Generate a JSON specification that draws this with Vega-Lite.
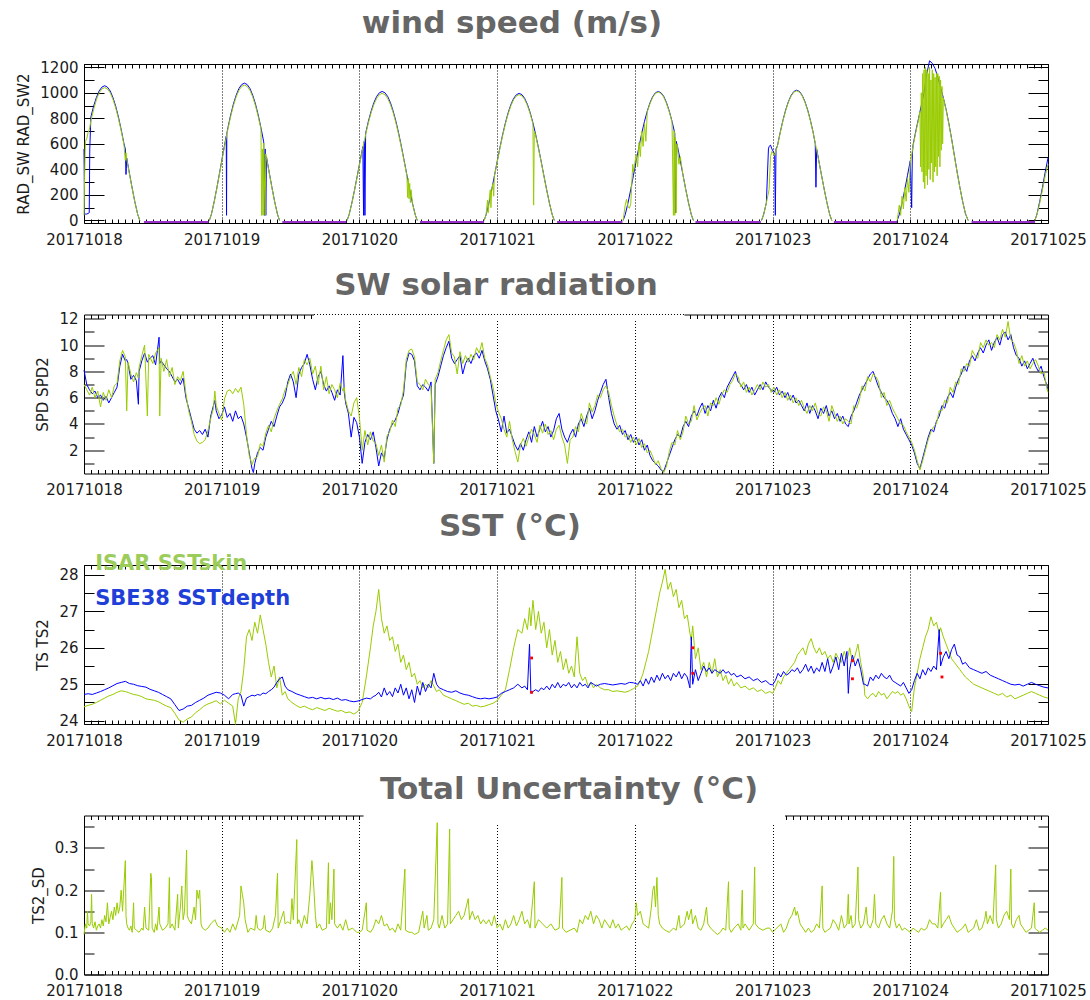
{
"$schema": "https://vega.github.io/schema/vega-lite/v6.json",
"background": "white",
"padding": {"left": 16, "top": 7, "right": 5, "bottom": 3},
"spacing": 91.5,
"bounds": "flush",
"config": {
  "view": {"stroke": "#000", "strokeWidth": 1},
  "axis": {"grid": false, "domain": false, "ticks": true, "labelFont": "DejaVu Sans", "labelFontSize": 15, "labelColor": "#1a1a1a", "titleFont": "DejaVu Sans", "titleFontSize": 15, "titleFontWeight": "normal", "titleColor": "#1a1a1a", "tickColor": "#000", "tickWidth": 1, "tickOpacity": 1},
  "title": {"font": "DejaVu Sans", "fontSize": 31, "fontWeight": "bold", "color": "#666666", "anchor": "middle", "baseline": "alphabetic"},
  "line": {"strokeWidth": 1, "invalid": "filter", "clip": true}
},
"datasets": {
"rad": [
{"t":0,"d":0,"b":560,"g":40},{"t":0.004,"d":0,"b":50,"g":330},{"t":0.01,"d":0,"b":50,"g":620},{"t":0.02,"d":0,"b":50,"g":640},{"t":0.03,"d":0,"b":55,"g":690},{"t":0.038,"d":0,"b":60,"g":710},{"t":0.042,"d":0,"b":560,"g":730},{"t":0.05,"d":0,"b":810,"g":780},{"t":0.07,"d":0,"b":895,"g":870},{"t":0.09,"d":0,"b":963,"g":945},{"t":0.11,"d":0,"b":1014,"g":1000},{"t":0.13,"d":0,"b":1044,"g":1030},{"t":0.15,"d":0,"b":1055,"g":1040},{"t":0.17,"d":0,"b":1044,"g":1030},{"t":0.19,"d":0,"b":1014,"g":1000},{"t":0.21,"d":0,"b":963,"g":950},{"t":0.23,"d":0,"b":895,"g":882},{"t":0.25,"d":0,"b":810,"g":799},{"t":0.27,"d":0,"b":712,"g":702},{"t":0.29,"d":0,"b":603,"g":595},{"t":0.3,"d":0,"b":560,"g":470},{"t":0.305,"d":0,"b":360,"g":530},{"t":0.31,"d":0,"b":488,"g":482},{"t":0.33,"d":0,"b":369,"g":364},{"t":0.35,"d":0,"b":252,"g":249},{"t":0.37,"d":0,"b":142,"g":140},{"t":0.39,"d":0,"b":47,"g":47},{"t":0.405,"d":0,"b":0,"g":0},
{"t":0.91,"d":1,"b":0,"g":0},{"t":0.925,"d":1,"b":48,"g":48},{"t":0.945,"d":1,"b":145,"g":143},{"t":0.965,"d":1,"b":257,"g":253},{"t":0.985,"d":1,"b":376,"g":371},{"t":1.005,"d":1,"b":498,"g":491},{"t":1.025,"d":1,"b":615,"g":606},{"t":1.033,"d":1,"b":660},{"t":1.035,"d":1,"b":40},{"t":1.037,"d":1,"b":680},{"t":1.045,"d":1,"b":726,"g":716},{"t":1.065,"d":1,"b":826,"g":814},{"t":1.085,"d":1,"b":912,"g":899},{"t":1.105,"d":1,"b":981,"g":968},{"t":1.125,"d":1,"b":1033,"g":1019},{"t":1.145,"d":1,"b":1064,"g":1049},{"t":1.165,"d":1,"b":1075,"g":1060},{"t":1.185,"d":1,"b":1064,"g":1049},{"t":1.205,"d":1,"b":1033,"g":1019},{"t":1.225,"d":1,"b":981,"g":968},{"t":1.245,"d":1,"b":912,"g":899},{"t":1.265,"d":1,"b":826,"g":814},{"t":1.285,"d":1,"b":726,"g":716},{"t":1.29,"d":1,"g":40},{"t":1.295,"d":1,"g":560},{"t":1.3,"d":1,"g":40},{"t":1.305,"d":1,"b":615,"g":606},{"t":1.31,"d":1,"b":40},{"t":1.315,"d":1,"b":560,"g":40},{"t":1.32,"d":1,"b":40,"g":520},{"t":1.325,"d":1,"b":498,"g":491},{"t":1.345,"d":1,"b":376,"g":371},{"t":1.365,"d":1,"b":257,"g":253},{"t":1.385,"d":1,"b":145,"g":143},{"t":1.405,"d":1,"b":48,"g":48},{"t":1.42,"d":1,"b":0,"g":0},
{"t":1.91,"d":2,"b":0,"g":0},{"t":1.925,"d":2,"b":45,"g":45},{"t":1.945,"d":2,"b":136,"g":134},{"t":1.965,"d":2,"b":241,"g":238},{"t":1.985,"d":2,"b":354,"g":348},{"t":2.005,"d":2,"b":468,"g":461},{"t":2.025,"d":2,"b":578,"g":569},{"t":2.03,"d":2,"b":40},{"t":2.035,"d":2,"b":620},{"t":2.04,"d":2,"b":40},{"t":2.045,"d":2,"b":682,"g":672},{"t":2.065,"d":2,"b":776,"g":764},{"t":2.085,"d":2,"b":856,"g":844},{"t":2.105,"d":2,"b":922,"g":908},{"t":2.125,"d":2,"b":971,"g":956},{"t":2.145,"d":2,"b":1000,"g":985},{"t":2.165,"d":2,"b":1010,"g":995},{"t":2.185,"d":2,"b":1000,"g":985},{"t":2.205,"d":2,"b":971,"g":956},{"t":2.225,"d":2,"b":922,"g":908},{"t":2.245,"d":2,"b":856,"g":844},{"t":2.265,"d":2,"b":776,"g":764},{"t":2.285,"d":2,"b":682,"g":672},{"t":2.305,"d":2,"b":578,"g":569},{"t":2.325,"d":2,"b":468,"g":461},{"t":2.345,"d":2,"b":354,"g":348},{"t":2.35,"d":2,"g":180},{"t":2.355,"d":2,"g":330},{"t":2.36,"d":2,"g":170},{"t":2.365,"d":2,"b":241,"g":290},{"t":2.37,"d":2,"g":140},{"t":2.375,"d":2,"g":240},{"t":2.385,"d":2,"b":136,"g":134},{"t":2.405,"d":2,"b":45,"g":45},{"t":2.42,"d":2,"b":0,"g":0},
{"t":2.905,"d":3,"b":0,"g":0},{"t":2.92,"d":3,"b":45,"g":44},{"t":2.93,"d":3,"g":160},{"t":2.935,"d":3,"g":60},{"t":2.94,"d":3,"b":134,"g":133},{"t":2.95,"d":3,"g":240},{"t":2.955,"d":3,"g":100},{"t":2.96,"d":3,"b":238,"g":235},{"t":2.97,"d":3,"g":290},{"t":2.975,"d":3,"g":190},{"t":2.98,"d":3,"b":348,"g":345},{"t":3,"d":3,"b":461,"g":456},{"t":3.02,"d":3,"b":569,"g":564},{"t":3.04,"d":3,"b":672,"g":665},{"t":3.06,"d":3,"b":764,"g":756},{"t":3.08,"d":3,"b":844,"g":835},{"t":3.1,"d":3,"b":908,"g":899},{"t":3.12,"d":3,"b":956,"g":947},{"t":3.14,"d":3,"b":985,"g":975},{"t":3.16,"d":3,"b":995,"g":985},{"t":3.18,"d":3,"b":985,"g":975},{"t":3.2,"d":3,"b":956,"g":947},{"t":3.22,"d":3,"b":908,"g":899},{"t":3.24,"d":3,"b":844,"g":835},{"t":3.26,"d":3,"b":764,"g":756},{"t":3.265,"d":3,"g":120},{"t":3.27,"d":3,"g":700},{"t":3.28,"d":3,"b":672,"g":665},{"t":3.3,"d":3,"b":569,"g":564},{"t":3.32,"d":3,"b":461,"g":456},{"t":3.34,"d":3,"b":348,"g":345},{"t":3.36,"d":3,"b":238,"g":235},{"t":3.38,"d":3,"b":134,"g":133},{"t":3.4,"d":3,"b":45,"g":44},{"t":3.415,"d":3,"b":0,"g":0},
{"t":3.915,"d":4,"b":0,"g":0},{"t":3.93,"d":4,"b":45,"g":120},{"t":3.94,"d":4,"g":165},{"t":3.95,"d":4,"b":136,"g":110},{"t":3.96,"d":4,"g":95},{"t":3.97,"d":4,"b":241,"g":130},{"t":3.985,"d":4,"g":440},{"t":3.99,"d":4,"b":354,"g":380},{"t":4.01,"d":4,"b":468,"g":520},{"t":4.02,"d":4,"g":420},{"t":4.03,"d":4,"b":578,"g":610},{"t":4.04,"d":4,"g":500},{"t":4.05,"d":4,"b":682,"g":700},{"t":4.06,"d":4,"g":580},{"t":4.07,"d":4,"b":776,"g":760},{"t":4.08,"d":4,"g":620},{"t":4.09,"d":4,"b":856,"g":850},{"t":4.11,"d":4,"b":922,"g":915},{"t":4.13,"d":4,"b":971,"g":965},{"t":4.15,"d":4,"b":1000,"g":995},{"t":4.17,"d":4,"b":1010,"g":1005},{"t":4.19,"d":4,"b":1000,"g":995},{"t":4.21,"d":4,"b":971,"g":965},{"t":4.23,"d":4,"b":922,"g":915},{"t":4.25,"d":4,"b":856,"g":850},{"t":4.27,"d":4,"b":776,"g":770},{"t":4.28,"d":4,"g":40},{"t":4.285,"d":4,"g":700},{"t":4.29,"d":4,"b":682,"g":40},{"t":4.295,"d":4,"b":60,"g":650},{"t":4.3,"d":4,"b":620,"g":60},{"t":4.305,"d":4,"g":600},{"t":4.31,"d":4,"b":578,"g":570},{"t":4.32,"d":4,"g":440},{"t":4.33,"d":4,"b":468,"g":500},{"t":4.35,"d":4,"b":354,"g":350},{"t":4.37,"d":4,"b":241,"g":239},{"t":4.39,"d":4,"b":136,"g":135},{"t":4.41,"d":4,"b":45,"g":45},{"t":4.425,"d":4,"b":0,"g":0},
{"t":4.92,"d":5,"b":0,"g":0},{"t":4.935,"d":5,"b":46,"g":46},{"t":4.955,"d":5,"b":138,"g":137},{"t":4.97,"d":5,"b":560},{"t":4.975,"d":5,"b":580,"g":243},{"t":4.985,"d":5,"b":590,"g":500},{"t":4.995,"d":5,"b":560,"g":540},{"t":5.015,"d":5,"b":520,"g":510},{"t":5.02,"d":5,"b":40},{"t":5.025,"d":5,"b":560},{"t":5.035,"d":5,"b":583,"g":580},{"t":5.055,"d":5,"b":688,"g":684},{"t":5.075,"d":5,"b":783,"g":779},{"t":5.095,"d":5,"b":865,"g":860},{"t":5.115,"d":5,"b":931,"g":926},{"t":5.135,"d":5,"b":980,"g":975},{"t":5.155,"d":5,"b":1010,"g":1005},{"t":5.175,"d":5,"b":1020,"g":1015},{"t":5.195,"d":5,"b":1010,"g":1005},{"t":5.215,"d":5,"b":980,"g":975},{"t":5.235,"d":5,"b":931,"g":926},{"t":5.255,"d":5,"b":865,"g":860},{"t":5.275,"d":5,"b":783,"g":779},{"t":5.295,"d":5,"b":688,"g":684},{"t":5.31,"d":5,"b":600},{"t":5.315,"d":5,"b":260,"g":580},{"t":5.32,"d":5,"b":560},{"t":5.335,"d":5,"b":472,"g":470},{"t":5.355,"d":5,"b":357,"g":355},{"t":5.375,"d":5,"b":244,"g":243},{"t":5.395,"d":5,"b":138,"g":137},{"t":5.415,"d":5,"b":46,"g":46},{"t":5.43,"d":5,"b":0,"g":0},
{"t":5.905,"d":6,"b":0,"g":0},{"t":5.92,"d":6,"b":45,"g":120},{"t":5.93,"d":6,"g":40},{"t":5.94,"d":6,"b":136,"g":190},{"t":5.95,"d":6,"g":90},{"t":5.96,"d":6,"b":241,"g":260},{"t":5.97,"d":6,"g":150},{"t":5.98,"d":6,"b":354,"g":330},{"t":5.99,"d":6,"g":220},{"t":6,"d":6,"b":468,"g":450},{"t":6.01,"d":6,"b":100},{"t":6.015,"d":6,"b":520},{"t":6.02,"d":6,"b":590,"g":580},{"t":6.04,"d":6,"b":700,"g":690},{"t":6.06,"d":6,"b":800,"g":790},{"t":6.07,"d":6,"g":850},{"t":6.075,"d":6,"g":420},{"t":6.08,"d":6,"b":900,"g":1000},{"t":6.085,"d":6,"g":380},{"t":6.09,"d":6,"g":1150},{"t":6.095,"d":6,"g":300},{"t":6.1,"d":6,"b":1000,"g":1180},{"t":6.105,"d":6,"g":250},{"t":6.11,"d":6,"g":1200},{"t":6.115,"d":6,"g":350},{"t":6.12,"d":6,"b":1150,"g":1180},{"t":6.125,"d":6,"g":280},{"t":6.13,"d":6,"g":1150},{"t":6.135,"d":6,"g":400},{"t":6.14,"d":6,"b":1250,"g":1200},{"t":6.145,"d":6,"g":320},{"t":6.15,"d":6,"g":1100},{"t":6.155,"d":6,"g":450},{"t":6.16,"d":6,"b":1230,"g":1180},{"t":6.165,"d":6,"g":300},{"t":6.17,"d":6,"g":1150},{"t":6.175,"d":6,"g":380},{"t":6.18,"d":6,"b":1190,"g":1120},{"t":6.185,"d":6,"g":420},{"t":6.19,"d":6,"g":1150},{"t":6.195,"d":6,"g":350},{"t":6.2,"d":6,"b":1120,"g":1150},{"t":6.205,"d":6,"g":500},{"t":6.21,"d":6,"g":1130},{"t":6.215,"d":6,"g":420},{"t":6.22,"d":6,"b":1040,"g":1100},{"t":6.225,"d":6,"g":550},{"t":6.23,"d":6,"g":1050},{"t":6.235,"d":6,"g":600},{"t":6.24,"d":6,"b":960,"g":960},{"t":6.26,"d":6,"b":870,"g":865},{"t":6.28,"d":6,"b":760,"g":755},{"t":6.3,"d":6,"b":640,"g":635},{"t":6.32,"d":6,"b":510,"g":505},{"t":6.34,"d":6,"b":380,"g":378},{"t":6.36,"d":6,"b":260,"g":258},{"t":6.38,"d":6,"b":150,"g":148},{"t":6.4,"d":6,"b":55,"g":55},{"t":6.42,"d":6,"b":0,"g":0},
{"t":6.905,"d":7,"b":0,"g":0},{"t":6.92,"d":7,"b":50,"g":45},{"t":6.94,"d":7,"b":150,"g":135},{"t":6.96,"d":7,"b":260,"g":240},{"t":6.98,"d":7,"b":380,"g":350},{"t":7,"d":7,"b":490,"g":440}
],
"night": [
{"t":0.435,"d":0,"v":-12},{"t":0.905,"d":0,"v":-12},{"t":1.44,"d":1,"v":-12},{"t":1.905,"d":1,"v":-12},{"t":2.44,"d":2,"v":-12},{"t":2.905,"d":2,"v":-12},{"t":3.435,"d":3,"v":-12},{"t":3.91,"d":3,"v":-12},{"t":4.44,"d":4,"v":-12},{"t":4.915,"d":4,"v":-12},{"t":5.445,"d":5,"v":-12},{"t":5.905,"d":5,"v":-12},{"t":6.445,"d":6,"v":-12},{"t":6.905,"d":6,"v":-12}
],
"wind": [
{"t":0,"b":8.1,"g":7.0},{"t":0.02,"b":7.0,"g":6.6},{"t":0.04,"b":6.6,"g":6.2},{"t":0.06,"b":6.3,"g":6.8},{"t":0.08,"b":6.5,"g":6.0},{"t":0.1,"b":6.0,"g":6.5},{"t":0.12,"b":6.2,"g":5.3},{"t":0.14,"b":5.8,"g":6.4},{"t":0.16,"b":6.1,"g":5.8},{"t":0.18,"b":5.6,"g":6.6},{"t":0.2,"b":6.0,"g":6.0},{"t":0.22,"b":6.4,"g":6.9},{"t":0.24,"b":6.8,"g":7.1},{"t":0.26,"b":8.4,"g":8.8},{"t":0.28,"b":9.3,"g":9.6},{"t":0.3,"b":8.8,"g":9.1},{"t":0.31,"b":8.9,"g":5.0},{"t":0.32,"b":8.6,"g":8.7},{"t":0.34,"b":7.4,"g":7.8},{"t":0.36,"b":7.7,"g":7.2},{"t":0.38,"b":7.3,"g":7.9},{"t":0.395,"b":5.5,"g":7.5},{"t":0.4,"b":8.0,"g":8.3},{"t":0.42,"b":8.8,"g":9.2},{"t":0.44,"b":9.4,"g":10.0},{"t":0.46,"b":8.7,"g":4.6},{"t":0.47,"b":8.9,"g":9.3},{"t":0.5,"b":9.2,"g":8.6},{"t":0.52,"b":8.5,"g":9.4},{"t":0.545,"b":10.6,"g":9.8},{"t":0.55,"b":8.6,"g":4.6},{"t":0.56,"b":8.8,"g":9.0},{"t":0.58,"b":8.5,"g":8.0},{"t":0.6,"b":8.2,"g":8.9},{"t":0.62,"b":8.0,"g":7.6},{"t":0.64,"b":7.6,"g":8.3},{"t":0.66,"b":7.2,"g":7.0},{"t":0.68,"b":7.4,"g":7.6},{"t":0.7,"b":7.0,"g":7.3},{"t":0.72,"b":7.5,"g":8.0},{"t":0.74,"b":6.0,"g":6.3},{"t":0.76,"b":5.2,"g":5.0},{"t":0.78,"b":4.4,"g":4.2},{"t":0.8,"b":3.6,"g":3.2},{"t":0.82,"b":3.3,"g":2.7},{"t":0.84,"b":3.5,"g":2.5},{"t":0.86,"b":3.2,"g":2.6},{"t":0.88,"b":3.6,"g":2.8},{"t":0.9,"b":3.0,"g":3.5},{"t":0.92,"b":4.6,"g":4.4},{"t":0.94,"b":5.4,"g":5.2},{"t":0.95,"b":5.8,"g":6.5},{"t":0.96,"b":5.0,"g":5.4},{"t":0.98,"b":4.4,"g":4.8},{"t":1.0,"b":4.7,"g":4.3},{"t":1.02,"b":5.3,"g":5.9},{"t":1.04,"b":4.5,"g":6.5},{"t":1.06,"b":4.8,"g":6.6},{"t":1.08,"b":4.2,"g":6.3},{"t":1.1,"b":5.0,"g":6.7},{"t":1.12,"b":4.4,"g":6.4},{"t":1.14,"b":4.6,"g":6.8},{"t":1.16,"b":4.0,"g":5.5},{"t":1.18,"b":3.0,"g":3.2},{"t":1.2,"b":1.8,"g":1.6},{"t":1.22,"b":0.6,"g":0.9},{"t":1.23,"b":0.3,"g":1.2},{"t":1.24,"b":1.0,"g":1.4},{"t":1.26,"b":1.8,"g":1.5},{"t":1.28,"b":2.2,"g":2.5},{"t":1.3,"b":2.0,"g":2.3},{"t":1.32,"b":3.0,"g":3.3},{"t":1.34,"b":3.6,"g":3.9},{"t":1.36,"b":4.2,"g":3.4},{"t":1.38,"b":3.8,"g":4.4},{"t":1.4,"b":4.6,"g":5.0},{"t":1.42,"b":5.3,"g":5.5},{"t":1.44,"b":5.6,"g":5.9},{"t":1.46,"b":6.1,"g":6.6},{"t":1.48,"b":7.2,"g":7.0},{"t":1.5,"b":7.8,"g":7.6},{"t":1.52,"b":7.2,"g":8.0},{"t":1.54,"b":6.0,"g":7.0},{"t":1.56,"b":7.8,"g":8.3},{"t":1.58,"b":8.3,"g":7.6},{"t":1.6,"b":8.6,"g":8.9},{"t":1.62,"b":9.3,"g":8.5},{"t":1.64,"b":8.5,"g":9.0},{"t":1.66,"b":7.4,"g":7.8},{"t":1.68,"b":6.6,"g":8.4},{"t":1.7,"b":7.6,"g":7.0},{"t":1.72,"b":8.0,"g":8.4},{"t":1.74,"b":7.0,"g":6.6},{"t":1.76,"b":6.5,"g":7.6},{"t":1.78,"b":6.9,"g":6.3},{"t":1.8,"b":6.4,"g":7.0},{"t":1.82,"b":5.8,"g":6.6},{"t":1.84,"b":6.6,"g":6.0},{"t":1.86,"b":6.2,"g":7.1},{"t":1.88,"b":9.2,"g":6.5},{"t":1.89,"b":6.4,"g":6.8},{"t":1.9,"b":5.6,"g":5.8},{"t":1.92,"b":4.8,"g":5.0},{"t":1.94,"b":3.0,"g":4.6},{"t":1.96,"b":4.5,"g":5.6},{"t":1.98,"b":4.1,"g":6.0},{"t":2.0,"b":3.0,"g":4.5},{"t":2.02,"b":1.0,"g":2.0},{"t":2.04,"b":2.6,"g":3.5},{"t":2.06,"b":3.2,"g":2.4},{"t":2.08,"b":2.8,"g":3.4},{"t":2.1,"b":3.4,"g":2.7},{"t":2.12,"b":2.2,"g":2.5},{"t":2.14,"b":0.8,"g":1.6},{"t":2.16,"b":1.8,"g":2.4},{"t":2.18,"b":1.4,"g":1.1},{"t":2.2,"b":2.8,"g":3.1},{"t":2.22,"b":3.6,"g":3.4},{"t":2.24,"b":4.0,"g":4.3},{"t":2.26,"b":4.3,"g":3.8},{"t":2.28,"b":4.8,"g":5.2},{"t":2.3,"b":5.6,"g":5.4},{"t":2.32,"b":6.2,"g":6.6},{"t":2.34,"b":8.6,"g":8.9},{"t":2.36,"b":9.4,"g":9.6},{"t":2.38,"b":9.3,"g":9.7},{"t":2.4,"b":8.8,"g":9.1},{"t":2.42,"b":6.9,"g":7.2},{"t":2.44,"b":6.6,"g":7.0},{"t":2.46,"b":7.0,"g":6.6},{"t":2.48,"b":6.8,"g":7.4},{"t":2.5,"b":6.5,"g":7.0},{"t":2.52,"b":7.2,"g":6.8},{"t":2.54,"b":1.0,"g":1.0},{"t":2.55,"b":7.0,"g":7.4},{"t":2.57,"b":7.6,"g":7.9},{"t":2.59,"b":8.4,"g":8.8},{"t":2.61,"b":9.2,"g":9.6},{"t":2.63,"b":9.8,"g":10.4},{"t":2.65,"b":10.3,"g":10.8},{"t":2.67,"b":9.0,"g":9.4},{"t":2.69,"b":8.6,"g":9.1},{"t":2.71,"b":8.9,"g":7.8},{"t":2.73,"b":9.2,"g":9.5},{"t":2.75,"b":7.8,"g":8.6},{"t":2.77,"b":8.6,"g":9.2},{"t":2.79,"b":9.0,"g":8.7},{"t":2.81,"b":8.6,"g":9.3},{"t":2.83,"b":9.2,"g":8.9},{"t":2.85,"b":9.4,"g":9.8},{"t":2.87,"b":9.0,"g":9.4},{"t":2.89,"b":9.6,"g":10.2},{"t":2.91,"b":8.8,"g":9.0},{"t":2.93,"b":8.2,"g":8.5},{"t":2.95,"b":7.4,"g":7.6},{"t":2.97,"b":6.2,"g":6.8},{"t":2.99,"b":5.0,"g":5.6},{"t":3.01,"b":4.3,"g":4.9},{"t":3.03,"b":3.4,"g":4.4},{"t":3.05,"b":4.6,"g":3.6},{"t":3.07,"b":3.3,"g":3.0},{"t":3.09,"b":3.6,"g":4.2},{"t":3.11,"b":3.0,"g":2.8},{"t":3.13,"b":2.4,"g":1.9},{"t":3.15,"b":2.0,"g":1.1},{"t":3.17,"b":2.5,"g":2.4},{"t":3.19,"b":2.0,"g":2.9},{"t":3.21,"b":2.8,"g":2.3},{"t":3.23,"b":3.4,"g":3.0},{"t":3.25,"b":2.6,"g":3.6},{"t":3.27,"b":3.8,"g":3.2},{"t":3.29,"b":3.0,"g":2.6},{"t":3.31,"b":3.6,"g":3.9},{"t":3.33,"b":4.2,"g":3.3},{"t":3.35,"b":3.4,"g":4.0},{"t":3.37,"b":3.8,"g":3.2},{"t":3.39,"b":3.0,"g":3.5},{"t":3.41,"b":3.5,"g":2.8},{"t":3.43,"b":4.4,"g":3.6},{"t":3.45,"b":4.8,"g":3.9},{"t":3.47,"b":3.6,"g":3.0},{"t":3.49,"b":3.0,"g":2.4},{"t":3.51,"b":2.6,"g":1.0},{"t":3.53,"b":3.2,"g":2.8},{"t":3.55,"b":3.6,"g":3.0},{"t":3.57,"b":3.0,"g":3.8},{"t":3.59,"b":4.0,"g":3.4},{"t":3.61,"b":4.4,"g":4.8},{"t":3.63,"b":3.8,"g":4.2},{"t":3.65,"b":4.6,"g":4.0},{"t":3.67,"b":5.2,"g":5.6},{"t":3.69,"b":4.4,"g":4.9},{"t":3.71,"b":5.0,"g":5.4},{"t":3.73,"b":5.8,"g":6.2},{"t":3.75,"b":6.4,"g":6.0},{"t":3.77,"b":7.0,"g":6.6},{"t":3.79,"b":7.4,"g":6.9},{"t":3.81,"b":6.0,"g":6.4},{"t":3.83,"b":4.8,"g":5.4},{"t":3.85,"b":4.0,"g":4.6},{"t":3.87,"b":3.6,"g":3.9},{"t":3.89,"b":3.9,"g":3.4},{"t":3.91,"b":3.2,"g":3.6},{"t":3.93,"b":3.5,"g":3.0},{"t":3.95,"b":2.8,"g":3.2},{"t":3.97,"b":3.2,"g":2.6},{"t":3.99,"b":2.6,"g":3.0},{"t":4.01,"b":3.0,"g":2.4},{"t":4.03,"b":2.4,"g":2.9},{"t":4.05,"b":2.8,"g":2.2},{"t":4.07,"b":2.0,"g":2.5},{"t":4.09,"b":2.4,"g":1.8},{"t":4.11,"b":1.6,"g":2.0},{"t":4.13,"b":1.2,"g":1.5},{"t":4.15,"b":1.0,"g":0.9},{"t":4.17,"b":0.8,"g":1.2},{"t":4.19,"b":0.5,"g":0.6},{"t":4.21,"b":0.4,"g":0.3},{"t":4.23,"b":1.0,"g":0.8},{"t":4.25,"b":1.6,"g":1.9},{"t":4.27,"b":2.2,"g":2.6},{"t":4.29,"b":2.8,"g":2.4},{"t":4.31,"b":3.2,"g":3.5},{"t":4.33,"b":3.0,"g":2.8},{"t":4.35,"b":3.8,"g":3.4},{"t":4.37,"b":4.2,"g":4.6},{"t":4.39,"b":3.8,"g":4.0},{"t":4.41,"b":4.6,"g":4.2},{"t":4.43,"b":5.0,"g":5.4},{"t":4.45,"b":4.6,"g":4.3},{"t":4.47,"b":5.2,"g":4.8},{"t":4.49,"b":5.6,"g":5.2},{"t":4.51,"b":4.8,"g":5.4},{"t":4.53,"b":5.4,"g":4.6},{"t":4.55,"b":5.0,"g":5.6},{"t":4.57,"b":5.8,"g":5.4},{"t":4.59,"b":5.2,"g":6.0},{"t":4.61,"b":6.0,"g":5.5},{"t":4.63,"b":6.4,"g":6.2},{"t":4.65,"b":6.0,"g":6.6},{"t":4.67,"b":6.8,"g":6.4},{"t":4.69,"b":7.2,"g":7.0},{"t":4.71,"b":7.6,"g":7.3},{"t":4.73,"b":8.0,"g":7.8},{"t":4.75,"b":7.2,"g":7.6},{"t":4.77,"b":7.0,"g":6.8},{"t":4.79,"b":6.6,"g":7.2},{"t":4.81,"b":7.0,"g":6.4},{"t":4.83,"b":6.4,"g":6.8},{"t":4.85,"b":6.8,"g":6.2},{"t":4.87,"b":6.2,"g":6.6},{"t":4.89,"b":6.6,"g":7.0},{"t":4.91,"b":7.0,"g":6.6},{"t":4.93,"b":6.6,"g":7.2},{"t":4.95,"b":7.2,"g":6.8},{"t":4.97,"b":6.8,"g":7.0},{"t":4.99,"b":6.6,"g":6.4},{"t":5.01,"b":6.4,"g":6.8},{"t":5.03,"b":6.8,"g":6.2},{"t":5.05,"b":6.2,"g":6.6},{"t":5.07,"b":6.5,"g":6.0},{"t":5.09,"b":6.0,"g":6.4},{"t":5.11,"b":6.4,"g":5.8},{"t":5.13,"b":5.8,"g":6.2},{"t":5.15,"b":6.2,"g":5.6},{"t":5.17,"b":5.6,"g":6.0},{"t":5.19,"b":5.8,"g":5.4},{"t":5.21,"b":5.4,"g":5.8},{"t":5.23,"b":5.0,"g":5.2},{"t":5.25,"b":5.6,"g":4.8},{"t":5.27,"b":4.8,"g":5.4},{"t":5.29,"b":5.4,"g":5.0},{"t":5.31,"b":5.0,"g":5.6},{"t":5.33,"b":4.4,"g":4.8},{"t":5.35,"b":5.2,"g":4.6},{"t":5.37,"b":4.8,"g":5.3},{"t":5.39,"b":5.4,"g":5.0},{"t":5.41,"b":4.6,"g":4.2},{"t":5.43,"b":5.0,"g":5.4},{"t":5.45,"b":4.4,"g":4.8},{"t":5.47,"b":4.8,"g":4.2},{"t":5.49,"b":4.2,"g":4.6},{"t":5.51,"b":4.6,"g":4.0},{"t":5.53,"b":4.0,"g":4.4},{"t":5.55,"b":3.8,"g":4.2},{"t":5.57,"b":4.6,"g":4.0},{"t":5.59,"b":5.0,"g":5.4},{"t":5.61,"b":5.6,"g":5.2},{"t":5.63,"b":6.2,"g":5.8},{"t":5.65,"b":6.6,"g":6.9},{"t":5.67,"b":7.0,"g":6.5},{"t":5.69,"b":7.4,"g":7.6},{"t":5.71,"b":7.8,"g":7.2},{"t":5.73,"b":8.0,"g":7.8},{"t":5.75,"b":7.4,"g":7.6},{"t":5.77,"b":6.8,"g":7.2},{"t":5.79,"b":6.4,"g":6.0},{"t":5.81,"b":6.0,"g":6.4},{"t":5.83,"b":5.8,"g":5.4},{"t":5.85,"b":5.4,"g":5.8},{"t":5.87,"b":4.8,"g":5.2},{"t":5.89,"b":4.4,"g":4.8},{"t":5.91,"b":3.8,"g":4.4},{"t":5.93,"b":4.4,"g":4.0},{"t":5.95,"b":3.6,"g":3.9},{"t":5.97,"b":3.2,"g":3.4},{"t":5.99,"b":2.8,"g":3.0},{"t":6.01,"b":2.4,"g":2.6},{"t":6.03,"b":1.8,"g":2.0},{"t":6.05,"b":1.0,"g":1.2},{"t":6.07,"b":0.6,"g":0.5},{"t":6.09,"b":1.4,"g":1.2},{"t":6.11,"b":2.2,"g":2.0},{"t":6.13,"b":3.0,"g":2.8},{"t":6.15,"b":3.6,"g":3.4},{"t":6.17,"b":3.4,"g":3.8},{"t":6.19,"b":4.2,"g":4.0},{"t":6.21,"b":4.6,"g":5.0},{"t":6.23,"b":5.4,"g":5.0},{"t":6.25,"b":5.2,"g":5.8},{"t":6.27,"b":6.0,"g":5.6},{"t":6.29,"b":6.4,"g":6.8},{"t":6.31,"b":6.0,"g":6.4},{"t":6.33,"b":6.8,"g":7.2},{"t":6.35,"b":7.4,"g":7.0},{"t":6.37,"b":7.8,"g":8.2},{"t":6.39,"b":8.4,"g":8.0},{"t":6.41,"b":8.0,"g":8.6},{"t":6.43,"b":8.8,"g":8.4},{"t":6.45,"b":9.2,"g":9.6},{"t":6.47,"b":8.8,"g":9.2},{"t":6.49,"b":9.4,"g":9.0},{"t":6.51,"b":9.8,"g":10.2},{"t":6.53,"b":9.4,"g":9.8},{"t":6.55,"b":10.0,"g":10.4},{"t":6.57,"b":10.4,"g":10.0},{"t":6.59,"b":9.6,"g":10.2},{"t":6.61,"b":10.2,"g":9.8},{"t":6.63,"b":10.6,"g":10.8},{"t":6.65,"b":10.0,"g":10.4},{"t":6.67,"b":10.8,"g":11.2},{"t":6.69,"b":11.0,"g":10.6},{"t":6.71,"b":10.4,"g":11.8},{"t":6.73,"b":10.8,"g":10.4},{"t":6.75,"b":9.8,"g":10.2},{"t":6.77,"b":9.2,"g":9.6},{"t":6.79,"b":9.0,"g":8.6},{"t":6.81,"b":8.4,"g":9.2},{"t":6.83,"b":8.8,"g":8.4},{"t":6.85,"b":8.2,"g":8.8},{"t":6.87,"b":8.6,"g":8.2},{"t":6.89,"b":9.0,"g":8.6},{"t":6.91,"b":8.4,"g":8.9},{"t":6.93,"b":8.0,"g":8.4},{"t":6.95,"b":8.4,"g":7.8},{"t":6.97,"b":7.6,"g":8.0},{"t":6.99,"b":7.0,"g":6.8},{"t":7.0,"b":6.6,"g":6.4}
],
"sst": [
{"t":0,"b":24.72,"g":24.38},{"t":0.03,"b":24.74,"g":24.42},{"t":0.06,"b":24.72,"g":24.45},{"t":0.09,"b":24.76,"g":24.5},{"t":0.12,"b":24.8,"g":24.56},{"t":0.15,"b":24.85,"g":24.62},{"t":0.18,"b":24.9,"g":24.68},{"t":0.21,"b":24.96,"g":24.72},{"t":0.24,"b":25.02,"g":24.78},{"t":0.27,"b":25.05,"g":24.82},{"t":0.3,"b":25.08,"g":24.8},{"t":0.33,"b":25.02,"g":24.76},{"t":0.36,"b":25.0,"g":24.72},{"t":0.39,"b":24.96,"g":24.7},{"t":0.42,"b":24.94,"g":24.66},{"t":0.45,"b":24.92,"g":24.6},{"t":0.48,"b":24.86,"g":24.58},{"t":0.51,"b":24.82,"g":24.56},{"t":0.54,"b":24.78,"g":24.52},{"t":0.57,"b":24.72,"g":24.46},{"t":0.6,"b":24.66,"g":24.4},{"t":0.63,"b":24.6,"g":24.36},{"t":0.66,"b":24.44,"g":24.2},{"t":0.69,"b":24.28,"g":24.02},{"t":0.72,"b":24.32,"g":23.96},{"t":0.75,"b":24.4,"g":24.05},{"t":0.78,"b":24.42,"g":24.1},{"t":0.81,"b":24.5,"g":24.22},{"t":0.84,"b":24.56,"g":24.3},{"t":0.87,"b":24.62,"g":24.4},{"t":0.9,"b":24.7,"g":24.46},{"t":0.93,"b":24.74,"g":24.5},{"t":0.96,"b":24.78,"g":24.55},{"t":0.99,"b":24.76,"g":24.46},{"t":1.02,"b":24.7,"g":24.56},{"t":1.05,"b":24.6,"g":24.48},{"t":1.08,"b":24.72,"g":24.4},{"t":1.1,"b":24.74,"g":23.9},{"t":1.12,"b":24.76,"g":24.6},{"t":1.14,"b":24.7,"g":24.8},{"t":1.16,"b":24.4,"g":25.4},{"t":1.18,"b":24.62,"g":26.3},{"t":1.2,"b":24.66,"g":26.5},{"t":1.22,"b":24.7,"g":26.2},{"t":1.24,"b":24.68,"g":26.7},{"t":1.26,"b":24.72,"g":26.4},{"t":1.28,"b":24.7,"g":26.9},{"t":1.3,"b":24.76,"g":26.5},{"t":1.32,"b":24.74,"g":26.1},{"t":1.34,"b":24.8,"g":25.6},{"t":1.36,"b":24.85,"g":25.2},{"t":1.38,"b":24.92,"g":25.5},{"t":1.4,"b":25.05,"g":24.9},{"t":1.42,"b":25.15,"g":25.2},{"t":1.44,"b":25.2,"g":24.7},{"t":1.46,"b":24.95,"g":24.8},{"t":1.48,"b":24.85,"g":24.6},{"t":1.51,"b":24.8,"g":24.5},{"t":1.54,"b":24.74,"g":24.42},{"t":1.57,"b":24.7,"g":24.36},{"t":1.6,"b":24.66,"g":24.4},{"t":1.63,"b":24.62,"g":24.34},{"t":1.66,"b":24.64,"g":24.3},{"t":1.69,"b":24.6,"g":24.36},{"t":1.72,"b":24.64,"g":24.32},{"t":1.75,"b":24.6,"g":24.28},{"t":1.78,"b":24.62,"g":24.34},{"t":1.81,"b":24.58,"g":24.3},{"t":1.84,"b":24.62,"g":24.26},{"t":1.87,"b":24.56,"g":24.28},{"t":1.9,"b":24.58,"g":24.22},{"t":1.93,"b":24.54,"g":24.24},{"t":1.96,"b":24.52,"g":24.18},{"t":1.99,"b":24.54,"g":24.26},{"t":2.02,"b":24.58,"g":24.5},{"t":2.05,"b":24.62,"g":25.2},{"t":2.08,"b":24.6,"g":26.0},{"t":2.1,"b":24.66,"g":26.6},{"t":2.12,"b":24.7,"g":27.0},{"t":2.14,"b":24.78,"g":27.6},{"t":2.16,"b":24.65,"g":26.8},{"t":2.18,"b":24.9,"g":26.4},{"t":2.2,"b":24.7,"g":26.6},{"t":2.22,"b":24.8,"g":26.2},{"t":2.24,"b":24.66,"g":26.3},{"t":2.26,"b":24.9,"g":25.9},{"t":2.28,"b":24.76,"g":26.1},{"t":2.3,"b":25.0,"g":25.6},{"t":2.32,"b":24.7,"g":25.8},{"t":2.34,"b":24.9,"g":25.4},{"t":2.36,"b":24.6,"g":25.6},{"t":2.38,"b":24.85,"g":25.2},{"t":2.4,"b":24.5,"g":25.3},{"t":2.42,"b":24.95,"g":25.0},{"t":2.44,"b":24.7,"g":25.1},{"t":2.46,"b":25.05,"g":24.9},{"t":2.48,"b":24.8,"g":25.0},{"t":2.5,"b":25.0,"g":24.9},{"t":2.52,"b":24.9,"g":25.1},{"t":2.54,"b":25.3,"g":24.95},{"t":2.56,"b":25.0,"g":24.8},{"t":2.58,"b":24.9,"g":24.85},{"t":2.61,"b":24.85,"g":24.7},{"t":2.64,"b":24.8,"g":24.65},{"t":2.67,"b":24.78,"g":24.6},{"t":2.7,"b":24.82,"g":24.55},{"t":2.73,"b":24.76,"g":24.5},{"t":2.76,"b":24.72,"g":24.45},{"t":2.79,"b":24.7,"g":24.48},{"t":2.82,"b":24.66,"g":24.4},{"t":2.85,"b":24.62,"g":24.42},{"t":2.88,"b":24.6,"g":24.38},{"t":2.91,"b":24.62,"g":24.4},{"t":2.94,"b":24.6,"g":24.44},{"t":2.97,"b":24.62,"g":24.48},{"t":3.0,"b":24.65,"g":24.55},{"t":3.03,"b":24.75,"g":24.7},{"t":3.06,"b":24.8,"g":24.85},{"t":3.09,"b":24.85,"g":25.4},{"t":3.12,"b":24.9,"g":26.0},{"t":3.15,"b":25.0,"g":26.5},{"t":3.18,"b":24.9,"g":26.4},{"t":3.2,"b":24.95,"g":26.8},{"t":3.22,"b":24.85,"g":26.5},{"t":3.235,"b":26.1,"g":27.1},{"t":3.245,"b":24.75,"g":26.6},{"t":3.26,"b":24.8,"g":27.3},{"t":3.28,"b":24.85,"g":26.5},{"t":3.3,"b":24.8,"g":27.0},{"t":3.32,"b":24.9,"g":26.4},{"t":3.34,"b":24.85,"g":26.7},{"t":3.36,"b":24.95,"g":26.0},{"t":3.38,"b":24.85,"g":26.5},{"t":3.4,"b":25.0,"g":25.8},{"t":3.42,"b":24.9,"g":26.2},{"t":3.44,"b":25.05,"g":25.6},{"t":3.46,"b":24.9,"g":25.9},{"t":3.48,"b":25.0,"g":25.4},{"t":3.5,"b":24.95,"g":25.7},{"t":3.52,"b":25.05,"g":25.3},{"t":3.54,"b":24.9,"g":25.5},{"t":3.56,"b":25.0,"g":25.2},{"t":3.58,"b":24.9,"g":26.3},{"t":3.6,"b":25.05,"g":25.3},{"t":3.62,"b":24.95,"g":25.1},{"t":3.64,"b":25.0,"g":25.2},{"t":3.66,"b":24.9,"g":24.95},{"t":3.68,"b":25.05,"g":25.05},{"t":3.7,"b":25.0,"g":24.9},{"t":3.72,"b":24.95,"g":25.0},{"t":3.75,"b":25.0,"g":24.9},{"t":3.78,"b":25.02,"g":24.85},{"t":3.81,"b":25.0,"g":24.85},{"t":3.84,"b":24.98,"g":24.8},{"t":3.87,"b":25.0,"g":24.82},{"t":3.9,"b":25.02,"g":24.8},{"t":3.93,"b":25.0,"g":24.78},{"t":3.96,"b":25.05,"g":24.82},{"t":3.99,"b":25.04,"g":24.88},{"t":4.02,"b":25.0,"g":24.95},{"t":4.04,"b":25.1,"g":25.1},{"t":4.06,"b":24.95,"g":25.3},{"t":4.08,"b":25.15,"g":25.6},{"t":4.1,"b":25.0,"g":25.9},{"t":4.12,"b":25.2,"g":26.3},{"t":4.14,"b":25.05,"g":26.7},{"t":4.16,"b":25.25,"g":27.1},{"t":4.18,"b":25.1,"g":27.5},{"t":4.2,"b":25.3,"g":27.8},{"t":4.22,"b":25.15,"g":28.15},{"t":4.24,"b":25.25,"g":27.6},{"t":4.26,"b":25.1,"g":27.8},{"t":4.28,"b":25.3,"g":27.4},{"t":4.3,"b":25.2,"g":27.6},{"t":4.32,"b":25.35,"g":27.1},{"t":4.34,"b":25.15,"g":27.3},{"t":4.36,"b":25.3,"g":26.8},{"t":4.38,"b":25.2,"g":26.9},{"t":4.4,"b":24.9,"g":26.4},{"t":4.41,"b":26.3,"g":26.2},{"t":4.42,"b":25.0,"g":26.6},{"t":4.44,"b":25.4,"g":25.7},{"t":4.46,"b":25.1,"g":26.0},{"t":4.48,"b":25.3,"g":25.4},{"t":4.5,"b":25.5,"g":25.6},{"t":4.52,"b":25.35,"g":25.2},{"t":4.54,"b":25.45,"g":25.6},{"t":4.56,"b":25.3,"g":25.3},{"t":4.58,"b":25.4,"g":25.7},{"t":4.6,"b":25.35,"g":25.2},{"t":4.62,"b":25.3,"g":25.4},{"t":4.64,"b":25.4,"g":25.1},{"t":4.66,"b":25.3,"g":25.25},{"t":4.68,"b":25.35,"g":25.0},{"t":4.7,"b":25.25,"g":25.15},{"t":4.72,"b":25.3,"g":24.95},{"t":4.74,"b":25.2,"g":25.05},{"t":4.77,"b":25.25,"g":24.9},{"t":4.8,"b":25.15,"g":24.95},{"t":4.83,"b":25.2,"g":24.85},{"t":4.86,"b":25.1,"g":24.9},{"t":4.89,"b":25.15,"g":24.8},{"t":4.92,"b":25.05,"g":24.85},{"t":4.95,"b":25.1,"g":24.75},{"t":4.98,"b":25.0,"g":24.8},{"t":5.0,"b":24.98,"g":24.75},{"t":5.02,"b":25.1,"g":24.9},{"t":5.04,"b":25.3,"g":25.1},{"t":5.06,"b":25.2,"g":25.0},{"t":5.08,"b":25.35,"g":25.2},{"t":5.1,"b":25.25,"g":25.3},{"t":5.12,"b":25.3,"g":25.4},{"t":5.14,"b":25.4,"g":25.5},{"t":5.16,"b":25.35,"g":25.6},{"t":5.18,"b":25.45,"g":25.8},{"t":5.2,"b":25.3,"g":25.9},{"t":5.22,"b":25.4,"g":26.0},{"t":5.24,"b":25.55,"g":25.8},{"t":5.26,"b":25.35,"g":26.1},{"t":5.28,"b":25.5,"g":26.25},{"t":5.3,"b":25.3,"g":26.0},{"t":5.32,"b":25.45,"g":25.85},{"t":5.34,"b":25.35,"g":26.0},{"t":5.36,"b":25.6,"g":25.8},{"t":5.38,"b":25.35,"g":25.9},{"t":5.4,"b":25.7,"g":25.7},{"t":5.42,"b":25.3,"g":25.8},{"t":5.44,"b":25.5,"g":25.6},{"t":5.46,"b":25.75,"g":25.85},{"t":5.48,"b":25.4,"g":25.7},{"t":5.5,"b":25.85,"g":25.6},{"t":5.52,"b":25.5,"g":25.9},{"t":5.54,"b":25.9,"g":25.7},{"t":5.55,"b":24.75,"g":25.8},{"t":5.56,"b":25.4,"g":26.0},{"t":5.58,"b":25.8,"g":25.6},{"t":5.6,"b":25.5,"g":25.8},{"t":5.62,"b":25.7,"g":26.1},{"t":5.64,"b":25.4,"g":25.6},{"t":5.66,"b":25.0,"g":25.2},{"t":5.67,"b":25.0,"g":24.7},{"t":5.69,"b":24.95,"g":24.6},{"t":5.71,"b":25.2,"g":24.7},{"t":5.73,"b":25.1,"g":24.75},{"t":5.75,"b":25.25,"g":24.65},{"t":5.77,"b":25.15,"g":24.8},{"t":5.79,"b":25.3,"g":24.7},{"t":5.81,"b":25.2,"g":24.75},{"t":5.83,"b":25.15,"g":24.6},{"t":5.85,"b":25.25,"g":24.7},{"t":5.87,"b":25.1,"g":24.8},{"t":5.89,"b":25.05,"g":24.75},{"t":5.91,"b":25.0,"g":24.8},{"t":5.93,"b":24.95,"g":24.7},{"t":5.95,"b":25.05,"g":24.75},{"t":5.97,"b":24.9,"g":24.6},{"t":5.99,"b":24.75,"g":24.4},{"t":6.01,"b":24.85,"g":24.25},{"t":6.03,"b":25.1,"g":24.9},{"t":6.05,"b":25.3,"g":25.3},{"t":6.07,"b":25.15,"g":25.7},{"t":6.09,"b":25.4,"g":26.0},{"t":6.11,"b":25.25,"g":26.3},{"t":6.13,"b":25.45,"g":26.5},{"t":6.15,"b":25.35,"g":26.85},{"t":6.17,"b":25.5,"g":26.6},{"t":6.19,"b":25.4,"g":26.7},{"t":6.21,"b":26.5,"g":26.4},{"t":6.22,"b":25.5,"g":26.55},{"t":6.24,"b":25.75,"g":26.3},{"t":6.26,"b":25.9,"g":26.1},{"t":6.28,"b":25.7,"g":25.9},{"t":6.3,"b":25.95,"g":25.7},{"t":6.32,"b":26.1,"g":25.6},{"t":6.34,"b":25.8,"g":25.5},{"t":6.36,"b":25.75,"g":25.4},{"t":6.38,"b":25.55,"g":25.3},{"t":6.4,"b":25.6,"g":25.2},{"t":6.43,"b":25.45,"g":25.1},{"t":6.46,"b":25.4,"g":25.0},{"t":6.49,"b":25.35,"g":24.95},{"t":6.52,"b":25.3,"g":24.9},{"t":6.55,"b":25.35,"g":24.85},{"t":6.58,"b":25.25,"g":24.8},{"t":6.61,"b":25.2,"g":24.75},{"t":6.64,"b":25.15,"g":24.7},{"t":6.67,"b":25.1,"g":24.75},{"t":6.7,"b":25.05,"g":24.65},{"t":6.73,"b":25.0,"g":24.7},{"t":6.76,"b":24.98,"g":24.6},{"t":6.79,"b":25.0,"g":24.65},{"t":6.82,"b":24.95,"g":24.7},{"t":6.85,"b":25.0,"g":24.75},{"t":6.88,"b":25.05,"g":24.8},{"t":6.91,"b":25.0,"g":24.75},{"t":6.94,"b":24.96,"g":24.7},{"t":6.97,"b":24.92,"g":24.65},{"t":7.0,"b":24.9,"g":24.62}
],
"red": [
{"t":3.25,"v":25.72},{"t":3.25,"v":24.78},{"t":4.42,"v":26.0},{"t":4.42,"v":25.3},{"t":5.58,"v":25.65},{"t":5.58,"v":25.15},{"t":6.22,"v":25.85},{"t":6.23,"v":25.2}
],
"unc": [
{"t":0,"v":0.095},{"t":0.01,"v":0.12},{"t":0.02,"v":0.11},{"t":0.025,"v":0.15},{"t":0.03,"v":0.12},{"t":0.04,"v":0.115},{"t":0.05,"v":0.125},{"t":0.055,"v":0.19},{"t":0.06,"v":0.12},{"t":0.07,"v":0.11},{"t":0.08,"v":0.125},{"t":0.09,"v":0.105},{"t":0.1,"v":0.115},{"t":0.11,"v":0.12},{"t":0.12,"v":0.11},{"t":0.13,"v":0.13},{"t":0.14,"v":0.115},{"t":0.15,"v":0.14},{"t":0.16,"v":0.125},{"t":0.17,"v":0.17},{"t":0.18,"v":0.12},{"t":0.19,"v":0.135},{"t":0.2,"v":0.15},{"t":0.21,"v":0.13},{"t":0.22,"v":0.16},{"t":0.23,"v":0.14},{"t":0.24,"v":0.17},{"t":0.25,"v":0.145},{"t":0.26,"v":0.16},{"t":0.27,"v":0.2},{"t":0.28,"v":0.15},{"t":0.29,"v":0.21},{"t":0.3,"v":0.27},{"t":0.305,"v":0.14},{"t":0.31,"v":0.12},{"t":0.32,"v":0.11},{"t":0.33,"v":0.105},{"t":0.34,"v":0.115},{"t":0.35,"v":0.1},{"t":0.36,"v":0.17},{"t":0.365,"v":0.11},{"t":0.38,"v":0.105},{"t":0.4,"v":0.1},{"t":0.42,"v":0.11},{"t":0.43,"v":0.105},{"t":0.44,"v":0.16},{"t":0.45,"v":0.11},{"t":0.47,"v":0.105},{"t":0.485,"v":0.24},{"t":0.49,"v":0.23},{"t":0.495,"v":0.11},{"t":0.51,"v":0.1},{"t":0.52,"v":0.12},{"t":0.53,"v":0.105},{"t":0.545,"v":0.16},{"t":0.55,"v":0.12},{"t":0.57,"v":0.105},{"t":0.59,"v":0.11},{"t":0.61,"v":0.12},{"t":0.62,"v":0.23},{"t":0.625,"v":0.11},{"t":0.64,"v":0.12},{"t":0.66,"v":0.105},{"t":0.68,"v":0.19},{"t":0.685,"v":0.11},{"t":0.7,"v":0.16},{"t":0.71,"v":0.21},{"t":0.72,"v":0.13},{"t":0.73,"v":0.15},{"t":0.745,"v":0.295},{"t":0.75,"v":0.14},{"t":0.76,"v":0.13},{"t":0.78,"v":0.12},{"t":0.8,"v":0.16},{"t":0.81,"v":0.13},{"t":0.82,"v":0.2},{"t":0.83,"v":0.18},{"t":0.84,"v":0.2},{"t":0.85,"v":0.12},{"t":0.86,"v":0.11},{"t":0.88,"v":0.105},{"t":0.9,"v":0.11},{"t":0.92,"v":0.12},{"t":0.95,"v":0.13},{"t":0.97,"v":0.115},{"t":1.0,"v":0.11},{"t":1.02,"v":0.1},{"t":1.04,"v":0.11},{"t":1.06,"v":0.1},{"t":1.08,"v":0.12},{"t":1.1,"v":0.105},{"t":1.13,"v":0.14},{"t":1.14,"v":0.21},{"t":1.15,"v":0.19},{"t":1.16,"v":0.17},{"t":1.17,"v":0.13},{"t":1.19,"v":0.1},{"t":1.21,"v":0.11},{"t":1.24,"v":0.105},{"t":1.25,"v":0.14},{"t":1.26,"v":0.11},{"t":1.28,"v":0.105},{"t":1.3,"v":0.11},{"t":1.31,"v":0.14},{"t":1.32,"v":0.105},{"t":1.35,"v":0.1},{"t":1.37,"v":0.11},{"t":1.39,"v":0.14},{"t":1.405,"v":0.24},{"t":1.41,"v":0.11},{"t":1.43,"v":0.13},{"t":1.45,"v":0.15},{"t":1.46,"v":0.12},{"t":1.48,"v":0.125},{"t":1.5,"v":0.12},{"t":1.51,"v":0.18},{"t":1.52,"v":0.13},{"t":1.545,"v":0.32},{"t":1.55,"v":0.12},{"t":1.56,"v":0.13},{"t":1.58,"v":0.11},{"t":1.6,"v":0.14},{"t":1.62,"v":0.12},{"t":1.64,"v":0.19},{"t":1.655,"v":0.27},{"t":1.66,"v":0.25},{"t":1.67,"v":0.2},{"t":1.68,"v":0.14},{"t":1.69,"v":0.11},{"t":1.71,"v":0.12},{"t":1.73,"v":0.105},{"t":1.76,"v":0.11},{"t":1.775,"v":0.265},{"t":1.78,"v":0.12},{"t":1.79,"v":0.17},{"t":1.8,"v":0.13},{"t":1.815,"v":0.25},{"t":1.82,"v":0.12},{"t":1.84,"v":0.11},{"t":1.86,"v":0.12},{"t":1.88,"v":0.105},{"t":1.9,"v":0.13},{"t":1.92,"v":0.105},{"t":1.95,"v":0.11},{"t":1.98,"v":0.1},{"t":2.0,"v":0.1},{"t":2.02,"v":0.105},{"t":2.05,"v":0.17},{"t":2.055,"v":0.105},{"t":2.08,"v":0.1},{"t":2.1,"v":0.11},{"t":2.12,"v":0.13},{"t":2.14,"v":0.12},{"t":2.16,"v":0.14},{"t":2.18,"v":0.115},{"t":2.2,"v":0.12},{"t":2.22,"v":0.105},{"t":2.24,"v":0.11},{"t":2.26,"v":0.1},{"t":2.28,"v":0.12},{"t":2.3,"v":0.105},{"t":2.33,"v":0.25},{"t":2.335,"v":0.105},{"t":2.36,"v":0.1},{"t":2.38,"v":0.1},{"t":2.4,"v":0.095},{"t":2.43,"v":0.1},{"t":2.46,"v":0.15},{"t":2.47,"v":0.11},{"t":2.49,"v":0.14},{"t":2.5,"v":0.105},{"t":2.52,"v":0.11},{"t":2.54,"v":0.13},{"t":2.565,"v":0.36},{"t":2.57,"v":0.12},{"t":2.58,"v":0.11},{"t":2.6,"v":0.14},{"t":2.62,"v":0.11},{"t":2.64,"v":0.12},{"t":2.655,"v":0.345},{"t":2.66,"v":0.12},{"t":2.68,"v":0.13},{"t":2.7,"v":0.14},{"t":2.72,"v":0.15},{"t":2.74,"v":0.13},{"t":2.76,"v":0.14},{"t":2.79,"v":0.18},{"t":2.8,"v":0.13},{"t":2.82,"v":0.15},{"t":2.84,"v":0.13},{"t":2.86,"v":0.14},{"t":2.88,"v":0.12},{"t":2.9,"v":0.13},{"t":2.92,"v":0.12},{"t":2.94,"v":0.13},{"t":2.96,"v":0.115},{"t":2.98,"v":0.14},{"t":3.0,"v":0.11},{"t":3.02,"v":0.12},{"t":3.04,"v":0.105},{"t":3.06,"v":0.13},{"t":3.08,"v":0.11},{"t":3.1,"v":0.12},{"t":3.12,"v":0.14},{"t":3.14,"v":0.115},{"t":3.16,"v":0.13},{"t":3.18,"v":0.15},{"t":3.2,"v":0.12},{"t":3.22,"v":0.13},{"t":3.24,"v":0.11},{"t":3.27,"v":0.22},{"t":3.275,"v":0.11},{"t":3.3,"v":0.13},{"t":3.33,"v":0.12},{"t":3.36,"v":0.11},{"t":3.39,"v":0.12},{"t":3.42,"v":0.105},{"t":3.45,"v":0.11},{"t":3.47,"v":0.23},{"t":3.475,"v":0.11},{"t":3.5,"v":0.1},{"t":3.53,"v":0.105},{"t":3.56,"v":0.11},{"t":3.58,"v":0.1},{"t":3.6,"v":0.13},{"t":3.62,"v":0.12},{"t":3.64,"v":0.14},{"t":3.66,"v":0.13},{"t":3.68,"v":0.15},{"t":3.7,"v":0.12},{"t":3.72,"v":0.14},{"t":3.74,"v":0.13},{"t":3.76,"v":0.11},{"t":3.78,"v":0.13},{"t":3.8,"v":0.12},{"t":3.82,"v":0.11},{"t":3.84,"v":0.13},{"t":3.86,"v":0.11},{"t":3.88,"v":0.12},{"t":3.9,"v":0.105},{"t":3.92,"v":0.11},{"t":3.94,"v":0.115},{"t":3.96,"v":0.105},{"t":3.98,"v":0.12},{"t":4.0,"v":0.13},{"t":4.01,"v":0.17},{"t":4.02,"v":0.14},{"t":4.04,"v":0.15},{"t":4.06,"v":0.12},{"t":4.08,"v":0.115},{"t":4.1,"v":0.11},{"t":4.12,"v":0.16},{"t":4.13,"v":0.2},{"t":4.14,"v":0.21},{"t":4.15,"v":0.16},{"t":4.16,"v":0.23},{"t":4.17,"v":0.14},{"t":4.18,"v":0.12},{"t":4.2,"v":0.11},{"t":4.22,"v":0.105},{"t":4.25,"v":0.1},{"t":4.28,"v":0.11},{"t":4.3,"v":0.105},{"t":4.32,"v":0.14},{"t":4.33,"v":0.11},{"t":4.36,"v":0.12},{"t":4.38,"v":0.15},{"t":4.39,"v":0.13},{"t":4.41,"v":0.155},{"t":4.42,"v":0.12},{"t":4.44,"v":0.14},{"t":4.46,"v":0.11},{"t":4.48,"v":0.105},{"t":4.5,"v":0.12},{"t":4.52,"v":0.16},{"t":4.53,"v":0.12},{"t":4.55,"v":0.11},{"t":4.58,"v":0.1},{"t":4.6,"v":0.095},{"t":4.62,"v":0.1},{"t":4.64,"v":0.11},{"t":4.66,"v":0.105},{"t":4.68,"v":0.22},{"t":4.685,"v":0.11},{"t":4.7,"v":0.1},{"t":4.72,"v":0.11},{"t":4.75,"v":0.12},{"t":4.77,"v":0.105},{"t":4.78,"v":0.2},{"t":4.785,"v":0.11},{"t":4.8,"v":0.12},{"t":4.83,"v":0.105},{"t":4.86,"v":0.12},{"t":4.87,"v":0.255},{"t":4.875,"v":0.12},{"t":4.9,"v":0.11},{"t":4.93,"v":0.105},{"t":4.96,"v":0.11},{"t":4.98,"v":0.11},{"t":5.0,"v":0.1},{"t":5.03,"v":0.11},{"t":5.06,"v":0.12},{"t":5.08,"v":0.1},{"t":5.1,"v":0.11},{"t":5.12,"v":0.13},{"t":5.14,"v":0.14},{"t":5.16,"v":0.16},{"t":5.17,"v":0.14},{"t":5.18,"v":0.15},{"t":5.2,"v":0.12},{"t":5.22,"v":0.11},{"t":5.24,"v":0.1},{"t":5.26,"v":0.11},{"t":5.28,"v":0.1},{"t":5.3,"v":0.105},{"t":5.32,"v":0.12},{"t":5.34,"v":0.11},{"t":5.36,"v":0.21},{"t":5.365,"v":0.11},{"t":5.38,"v":0.1},{"t":5.4,"v":0.105},{"t":5.42,"v":0.11},{"t":5.44,"v":0.13},{"t":5.46,"v":0.12},{"t":5.48,"v":0.105},{"t":5.5,"v":0.14},{"t":5.52,"v":0.11},{"t":5.54,"v":0.12},{"t":5.55,"v":0.19},{"t":5.555,"v":0.12},{"t":5.57,"v":0.14},{"t":5.58,"v":0.11},{"t":5.6,"v":0.12},{"t":5.62,"v":0.255},{"t":5.625,"v":0.13},{"t":5.64,"v":0.11},{"t":5.66,"v":0.12},{"t":5.68,"v":0.16},{"t":5.69,"v":0.12},{"t":5.71,"v":0.11},{"t":5.73,"v":0.13},{"t":5.74,"v":0.19},{"t":5.75,"v":0.12},{"t":5.77,"v":0.11},{"t":5.79,"v":0.13},{"t":5.81,"v":0.14},{"t":5.83,"v":0.12},{"t":5.85,"v":0.11},{"t":5.87,"v":0.15},{"t":5.88,"v":0.28},{"t":5.885,"v":0.13},{"t":5.9,"v":0.11},{"t":5.92,"v":0.12},{"t":5.94,"v":0.105},{"t":5.96,"v":0.11},{"t":5.98,"v":0.105},{"t":6.0,"v":0.1},{"t":6.02,"v":0.11},{"t":6.04,"v":0.105},{"t":6.06,"v":0.1},{"t":6.08,"v":0.11},{"t":6.1,"v":0.105},{"t":6.12,"v":0.11},{"t":6.14,"v":0.13},{"t":6.16,"v":0.12},{"t":6.18,"v":0.12},{"t":6.2,"v":0.11},{"t":6.22,"v":0.195},{"t":6.225,"v":0.11},{"t":6.24,"v":0.12},{"t":6.26,"v":0.13},{"t":6.28,"v":0.14},{"t":6.29,"v":0.13},{"t":6.3,"v":0.12},{"t":6.32,"v":0.11},{"t":6.34,"v":0.1},{"t":6.36,"v":0.105},{"t":6.38,"v":0.11},{"t":6.4,"v":0.12},{"t":6.42,"v":0.1},{"t":6.44,"v":0.105},{"t":6.46,"v":0.11},{"t":6.48,"v":0.13},{"t":6.5,"v":0.105},{"t":6.52,"v":0.11},{"t":6.54,"v":0.13},{"t":6.55,"v":0.15},{"t":6.56,"v":0.12},{"t":6.58,"v":0.14},{"t":6.6,"v":0.12},{"t":6.62,"v":0.26},{"t":6.625,"v":0.13},{"t":6.64,"v":0.11},{"t":6.66,"v":0.12},{"t":6.68,"v":0.14},{"t":6.7,"v":0.15},{"t":6.72,"v":0.13},{"t":6.73,"v":0.25},{"t":6.735,"v":0.12},{"t":6.75,"v":0.11},{"t":6.77,"v":0.13},{"t":6.79,"v":0.14},{"t":6.8,"v":0.12},{"t":6.82,"v":0.11},{"t":6.84,"v":0.1},{"t":6.86,"v":0.105},{"t":6.88,"v":0.11},{"t":6.9,"v":0.17},{"t":6.905,"v":0.11},{"t":6.92,"v":0.105},{"t":6.94,"v":0.1},{"t":6.96,"v":0.105},{"t":6.98,"v":0.11},{"t":7.0,"v":0.105}
]
},
"vconcat": [
{
  "width": 964, "height": 159,
  "title": {"text": "wind speed (m/s)", "dx": -54, "offset": 19},
  "resolve": {"axis": {"x": "independent", "y": "independent"}},
  "layer": [
    {"data": {"name": "rad"}, "mark": {"type": "line", "color": "#0000ff"},
     "encoding": {
       "x": {"field": "t", "type": "quantitative", "scale": {"domain": [0, 7], "nice": false, "zero": false}, "axis": {"orient": "bottom", "values": [0,1,2,3,4,5,6,7], "ticks": false, "grid": true, "gridColor": "#000", "gridDash": [1,2], "gridOpacity": 1, "gridWidth": 1, "labelExpr": "'201710' + (18 + datum.value)", "labelPadding": 9, "labelFlush": false, "labelOverlap": false, "title": null}},
       "y": {"field": "b", "type": "quantitative", "scale": {"domain": [-20, 1225], "nice": false, "zero": false}, "axis": {"orient": "left", "values": [0,200,400,600,800,1000,1200], "offset": -20, "tickSize": 20, "labelPadding": 6, "format": "d", "title": "RAD_SW RAD_SW2", "titlePadding": 8}},
       "detail": {"field": "d"}
     }},
    {"data": {"name": "rad"}, "mark": {"type": "line", "color": "#99cc00"},
     "encoding": {
       "x": {"field": "t", "type": "quantitative", "scale": {"domain": [0, 7], "nice": false, "zero": false}, "axis": {"orient": "bottom", "tickCount": 140, "offset": -4, "tickSize": 4, "labels": false, "title": null}},
       "y": {"field": "g", "type": "quantitative", "scale": {"domain": [-20, 1225], "nice": false, "zero": false}, "axis": {"orient": "left", "values": [100,300,500,700,900,1100], "offset": -10, "tickSize": 10, "labels": false, "title": null}},
       "detail": {"field": "d"}
     }},
    {"data": {"name": "night"}, "mark": {"type": "line", "color": "#9933cc", "strokeWidth": 2},
     "encoding": {
       "x": {"field": "t", "type": "quantitative", "scale": {"domain": [0, 7], "nice": false, "zero": false}, "axis": {"orient": "top", "tickCount": 140, "offset": -4, "tickSize": 4, "labels": false, "title": null}},
       "y": {"field": "v", "type": "quantitative", "scale": {"domain": [-20, 1225], "nice": false, "zero": false}, "axis": {"orient": "right", "values": [0,200,400,600,800,1000,1200], "offset": -20, "tickSize": 20, "labels": false, "title": null}},
       "detail": {"field": "d"}
     }},
    {"data": {"name": "night"}, "mark": {"type": "point", "opacity": 0},
     "encoding": {
       "x": {"field": "t", "type": "quantitative", "scale": {"domain": [0, 7], "nice": false, "zero": false}, "axis": null},
       "y": {"field": "v", "type": "quantitative", "scale": {"domain": [-20, 1225], "nice": false, "zero": false}, "axis": {"orient": "right", "values": [100,300,500,700,900,1100], "offset": -10, "tickSize": 10, "labels": false, "title": null}}
     }}
  ]
},
{
  "width": 964, "height": 159,
  "title": {"text": "SW solar radiation", "dx": -70, "offset": 10},
  "resolve": {"axis": {"x": "independent", "y": "independent"}},
  "layer": [
    {"data": {"values": [{}]}, "mark": {"type": "rect", "color": "white", "clip": false},
     "encoding": {
       "x": {"datum": 1.67, "type": "quantitative", "scale": {"domain": [0, 7], "nice": false, "zero": false}, "axis": null},
       "x2": {"datum": 4.36},
       "y": {"datum": 12.36, "type": "quantitative", "scale": {"domain": [0.23, 12.33], "nice": false, "zero": false}, "axis": null},
       "y2": {"datum": 11.96}
     }},
    {"data": {"values": [{}]}, "mark": {"type": "rule", "color": "#000", "strokeDash": [1, 2], "strokeWidth": 1, "clip": false},
     "encoding": {
       "x": {"datum": 1.67, "type": "quantitative", "axis": null},
       "x2": {"datum": 4.36},
       "y": {"datum": 12.33, "type": "quantitative", "axis": null}
     }},
    {"data": {"name": "wind"}, "mark": {"type": "line", "color": "#0000ff"},
     "encoding": {
       "x": {"field": "t", "type": "quantitative", "scale": {"domain": [0, 7], "nice": false, "zero": false}, "axis": {"orient": "bottom", "values": [0,1,2,3,4,5,6,7], "ticks": false, "grid": true, "gridColor": "#000", "gridDash": [1,2], "gridOpacity": 1, "gridWidth": 1, "labelExpr": "'201710' + (18 + datum.value)", "labelPadding": 9, "labelFlush": false, "labelOverlap": false, "title": null}},
       "y": {"field": "b", "type": "quantitative", "scale": {"domain": [0.23, 12.33], "nice": false, "zero": false}, "axis": {"orient": "left", "values": [2,4,6,8,10,12], "offset": -20, "tickSize": 20, "labelPadding": 6, "format": "d", "title": "SPD SPD2", "titlePadding": 8}}
     }},
    {"data": {"name": "wind"}, "mark": {"type": "line", "color": "#99cc00"},
     "encoding": {
       "x": {"field": "t", "type": "quantitative", "scale": {"domain": [0, 7], "nice": false, "zero": false}, "axis": {"orient": "bottom", "tickCount": 140, "offset": -4, "tickSize": 4, "labels": false, "title": null}},
       "y": {"field": "g", "type": "quantitative", "scale": {"domain": [0.23, 12.33], "nice": false, "zero": false}, "axis": {"orient": "left", "values": [1,3,5,7,9,11], "offset": -10, "tickSize": 10, "labels": false, "title": null}}
     }},
    {"data": {"name": "wind"}, "mark": {"type": "point", "opacity": 0},
     "encoding": {
       "x": {"field": "t", "type": "quantitative", "scale": {"domain": [0, 7], "nice": false, "zero": false}, "axis": {"orient": "top", "tickCount": 140, "offset": -4, "tickSize": 4, "labels": false, "title": null}},
       "y": {"field": "b", "type": "quantitative", "scale": {"domain": [0.23, 12.33], "nice": false, "zero": false}, "axis": {"orient": "right", "values": [2,4,6,8,10,12], "offset": -20, "tickSize": 20, "labels": false, "title": null}}
     }},
    {"data": {"name": "wind"}, "mark": {"type": "point", "opacity": 0},
     "encoding": {
       "x": {"field": "t", "type": "quantitative", "scale": {"domain": [0, 7], "nice": false, "zero": false}, "axis": null},
       "y": {"field": "b", "type": "quantitative", "scale": {"domain": [0.23, 12.33], "nice": false, "zero": false}, "axis": {"orient": "right", "values": [1,3,5,7,9,11], "offset": -10, "tickSize": 10, "labels": false, "title": null}}
     }}
  ]
},
{
  "width": 964, "height": 159,
  "title": {"text": "SST (°C)", "dx": -56, "offset": 10},
  "resolve": {"axis": {"x": "independent", "y": "independent"}},
  "layer": [
    {"data": {"name": "sst"}, "mark": {"type": "line", "color": "#99cc00"},
     "encoding": {
       "x": {"field": "t", "type": "quantitative", "scale": {"domain": [0, 7], "nice": false, "zero": false}, "axis": {"orient": "bottom", "values": [0,1,2,3,4,5,6,7], "ticks": false, "grid": true, "gridColor": "#000", "gridDash": [1,2], "gridOpacity": 1, "gridWidth": 1, "labelExpr": "'201710' + (18 + datum.value)", "labelPadding": 9, "labelFlush": false, "labelOverlap": false, "title": null}},
       "y": {"field": "g", "type": "quantitative", "scale": {"domain": [23.91, 28.27], "nice": false, "zero": false}, "axis": {"orient": "left", "values": [24,25,26,27,28], "offset": -20, "tickSize": 20, "labelPadding": 6, "format": "d", "title": "TS TS2", "titlePadding": 8}}
     }},
    {"data": {"name": "sst"}, "mark": {"type": "line", "color": "#0000ff"},
     "encoding": {
       "x": {"field": "t", "type": "quantitative", "scale": {"domain": [0, 7], "nice": false, "zero": false}, "axis": {"orient": "bottom", "tickCount": 140, "offset": -4, "tickSize": 4, "labels": false, "title": null}},
       "y": {"field": "b", "type": "quantitative", "scale": {"domain": [23.91, 28.27], "nice": false, "zero": false}, "axis": {"orient": "left", "values": [24.5,25.5,26.5,27.5], "offset": -10, "tickSize": 10, "labels": false, "title": null}}
     }},
    {"data": {"name": "red"}, "mark": {"type": "square", "color": "#ff0000", "filled": true, "size": 8, "opacity": 1},
     "encoding": {
       "x": {"field": "t", "type": "quantitative", "scale": {"domain": [0, 7], "nice": false, "zero": false}, "axis": {"orient": "top", "tickCount": 140, "offset": -4, "tickSize": 4, "labels": false, "title": null}},
       "y": {"field": "v", "type": "quantitative", "scale": {"domain": [23.91, 28.27], "nice": false, "zero": false}, "axis": {"orient": "right", "values": [24,25,26,27,28], "offset": -20, "tickSize": 20, "labels": false, "title": null}}
     }},
    {"data": {"name": "red"}, "mark": {"type": "point", "opacity": 0},
     "encoding": {
       "x": {"field": "t", "type": "quantitative", "scale": {"domain": [0, 7], "nice": false, "zero": false}, "axis": null},
       "y": {"field": "v", "type": "quantitative", "scale": {"domain": [23.91, 28.27], "nice": false, "zero": false}, "axis": {"orient": "right", "values": [24.5,25.5,26.5,27.5], "offset": -10, "tickSize": 10, "labels": false, "title": null}}
     }},
    {"data": {"values": [{}]}, "mark": {"type": "text", "text": "ISAR SSTskin", "align": "left", "baseline": "alphabetic", "font": "DejaVu Sans", "fontSize": 21, "fontWeight": "bold", "color": "#9ccc5a"},
     "encoding": {
       "x": {"datum": 0.081, "type": "quantitative", "axis": null},
       "y": {"datum": 28.13, "type": "quantitative", "axis": null}
     }},
    {"data": {"values": [{}]}, "mark": {"type": "text", "text": "SBE38 SSTdepth", "align": "left", "baseline": "alphabetic", "font": "DejaVu Sans", "fontSize": 21, "fontWeight": "bold", "color": "#1f3fd8"},
     "encoding": {
       "x": {"datum": 0.081, "type": "quantitative", "axis": null},
       "y": {"datum": 27.17, "type": "quantitative", "axis": null}
     }}
  ]
},
{
  "width": 964, "height": 159,
  "title": {"text": "Total Uncertainty (°C)", "dx": 3, "offset": 8},
  "resolve": {"axis": {"x": "independent", "y": "independent"}},
  "layer": [
    {"data": {"values": [{}]}, "mark": {"type": "rect", "color": "white", "clip": false},
     "encoding": {
       "x": {"datum": 2.03, "type": "quantitative", "scale": {"domain": [0, 7], "nice": false, "zero": false}, "axis": null},
       "x2": {"datum": 5.09},
       "y": {"datum": 0.38, "type": "quantitative", "scale": {"domain": [0, 0.377], "nice": false, "zero": false}, "axis": null},
       "y2": {"datum": 0.358}
     }},
    {"data": {"name": "unc"}, "mark": {"type": "line", "color": "#99cc00"},
     "encoding": {
       "x": {"field": "t", "type": "quantitative", "scale": {"domain": [0, 7], "nice": false, "zero": false}, "axis": {"orient": "bottom", "values": [0,1,2,3,4,5,6,7], "ticks": false, "grid": true, "gridColor": "#000", "gridDash": [1,2], "gridOpacity": 1, "gridWidth": 1, "labelExpr": "'201710' + (18 + datum.value)", "labelPadding": 9, "labelFlush": false, "labelOverlap": false, "title": null}},
       "y": {"field": "v", "type": "quantitative", "scale": {"domain": [0, 0.377], "nice": false, "zero": false}, "axis": {"orient": "left", "values": [0,0.1,0.2,0.3], "offset": -20, "tickSize": 20, "labelPadding": 6, "format": ".1f", "title": "TS2_SD", "titlePadding": 8}}
     }},
    {"data": {"name": "unc"}, "mark": {"type": "point", "opacity": 0},
     "encoding": {
       "x": {"field": "t", "type": "quantitative", "scale": {"domain": [0, 7], "nice": false, "zero": false}, "axis": {"orient": "bottom", "tickCount": 140, "offset": -4, "tickSize": 4, "labels": false, "title": null}},
       "y": {"field": "v", "type": "quantitative", "scale": {"domain": [0, 0.377], "nice": false, "zero": false}, "axis": {"orient": "left", "values": [0.05,0.15,0.25,0.35], "offset": -10, "tickSize": 10, "labels": false, "title": null}}
     }},
    {"data": {"name": "unc"}, "mark": {"type": "point", "opacity": 0},
     "encoding": {
       "x": {"field": "t", "type": "quantitative", "scale": {"domain": [0, 7], "nice": false, "zero": false}, "axis": {"orient": "top", "tickCount": 140, "offset": -4, "tickSize": 4, "labels": false, "title": null}},
       "y": {"field": "v", "type": "quantitative", "scale": {"domain": [0, 0.377], "nice": false, "zero": false}, "axis": {"orient": "right", "values": [0,0.1,0.2,0.3], "offset": -20, "tickSize": 20, "labels": false, "title": null}}
     }},
    {"data": {"name": "unc"}, "mark": {"type": "point", "opacity": 0},
     "encoding": {
       "x": {"field": "t", "type": "quantitative", "scale": {"domain": [0, 7], "nice": false, "zero": false}, "axis": null},
       "y": {"field": "v", "type": "quantitative", "scale": {"domain": [0, 0.377], "nice": false, "zero": false}, "axis": {"orient": "right", "values": [0.05,0.15,0.25,0.35], "offset": -10, "tickSize": 10, "labels": false, "title": null}}
     }}
  ]
}
]
}
